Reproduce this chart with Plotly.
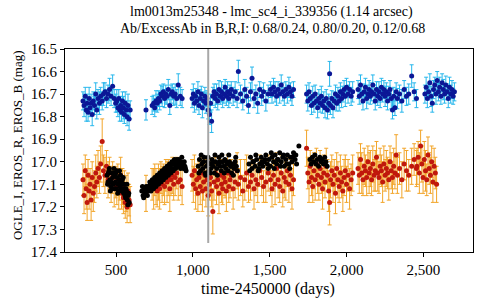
import plotly.graph_objects as go

# ---- data ----
t_eros = [285, 292, 300, 306, 312, 318, 325, 331, 338, 345, 352, 360, 368, 375, 383, 392, 400, 410, 418, 428,
          438, 448, 458, 468, 478, 488, 498, 505, 512, 518, 524, 530, 536, 542, 548, 554, 560, 566, 572, 578, 585, 592,
          695, 735, 745, 752, 760, 768, 776, 784, 792, 800, 808, 816, 824, 832, 840, 850, 858, 866, 875, 885,
          895, 905, 918, 930,
          995, 1003, 1010, 1018, 1025, 1033, 1040, 1048, 1055, 1062, 1070, 1078, 1085, 1092, 1100, 1108, 1115, 1122,
          1130, 1138, 1146, 1154, 1162, 1170, 1178, 1186, 1194, 1202, 1210, 1218, 1226, 1234, 1242, 1250, 1262, 1275,
          1288, 1296, 1310, 1325, 1338, 1350, 1362, 1375, 1385, 1398, 1410, 1422, 1435, 1448, 1460, 1475, 1490, 1505,
          1515, 1525, 1535, 1545, 1555, 1565, 1575, 1585, 1595, 1605, 1615, 1625, 1635, 1645, 1655,
          1740, 1748, 1756, 1764, 1772, 1780, 1788, 1796, 1804, 1812, 1820, 1828, 1836, 1844, 1852, 1860, 1868, 1876,
          1884, 1890, 1896, 1904, 1912, 1920, 1928, 1936, 1944, 1952, 1960, 1968, 1976, 1984, 1992, 2000, 2010, 2020,
          2030, 2040,
          2075, 2083, 2091, 2099, 2107, 2115, 2123, 2131, 2139, 2147, 2155, 2163, 2171, 2179, 2187, 2195, 2203, 2211,
          2219, 2227, 2235, 2243, 2251, 2259, 2267, 2275, 2283, 2291, 2299, 2307, 2315, 2323, 2331, 2345, 2360, 2375,
          2390, 2405, 2424, 2440, 2455]
t_b_tail = [2510, 2518, 2526, 2534, 2542, 2550, 2558, 2566, 2574, 2582, 2590, 2598, 2606, 2614, 2622, 2630, 2638,
            2646, 2654, 2662, 2670, 2678, 2686, 2694, 2702]
t_r_tail = [2458, 2466, 2474, 2482, 2490, 2498, 2506, 2514, 2522, 2530, 2538, 2546, 2554, 2562, 2570, 2578, 2586]

mag_b = [16.73, 16.75, 16.71, 16.77, 16.74, 16.78, 16.72, 16.76, 16.74, 16.79, 16.73, 16.75, 16.70, 16.77, 16.72,
         16.74, 16.71, 16.73, 16.70, 16.69, 16.72, 16.70, 16.68, 16.71, 16.665, 16.72, 16.74, 16.73, 16.76, 16.72,
         16.77, 16.75, 16.78, 16.73, 16.76, 16.79, 16.74, 16.77, 16.80, 16.75, 16.81, 16.77,
         16.77, 16.75, 16.74, 16.76, 16.73, 16.74, 16.72, 16.73, 16.70, 16.71, 16.69, 16.72, 16.70, 16.71, 16.68,
         16.75, 16.70, 16.69, 16.71, 16.70, 16.72, 16.66, 16.71, 16.72,
         16.72, 16.70, 16.74, 16.71, 16.73, 16.69, 16.75, 16.72, 16.70, 16.76, 16.73, 16.71, 16.74, 16.72, 16.77,
         16.79, 16.74, 16.82, 16.71, 16.69, 16.72, 16.70, 16.73, 16.68, 16.71, 16.69, 16.72, 16.70, 16.67, 16.71,
         16.69, 16.72, 16.70, 16.68, 16.71, 16.69, 16.72, 16.60, 16.70, 16.73, 16.68, 16.71, 16.75, 16.69, 16.63,
         16.72, 16.70, 16.74, 16.68, 16.71, 16.69, 16.73, 16.70, 16.68, 16.70, 16.67, 16.69, 16.71, 16.68, 16.70,
         16.66, 16.69, 16.71, 16.68, 16.70, 16.67, 16.69, 16.71, 16.68,
         16.70, 16.73, 16.69, 16.72, 16.75, 16.71, 16.74, 16.70, 16.73, 16.76, 16.72, 16.74, 16.71, 16.75, 16.73,
         16.76, 16.72, 16.77, 16.74, 16.61, 16.75, 16.72, 16.76, 16.73, 16.70, 16.74, 16.71, 16.73, 16.69, 16.72,
         16.70, 16.68, 16.71, 16.67, 16.70, 16.68, 16.71, 16.69,
         16.68, 16.71, 16.66, 16.70, 16.73, 16.69, 16.67, 16.72, 16.70, 16.68, 16.71, 16.69, 16.66, 16.70, 16.73,
         16.68, 16.71, 16.69, 16.72, 16.67, 16.70, 16.68, 16.71, 16.69, 16.73, 16.70, 16.68, 16.72, 16.77, 16.71,
         16.76, 16.69, 16.72, 16.70, 16.73, 16.68, 16.71, 16.70, 16.62, 16.69, 16.72,
         16.70, 16.67, 16.72, 16.69, 16.65, 16.71, 16.74, 16.68, 16.66, 16.70, 16.64, 16.69, 16.67, 16.71, 16.65,
         16.68, 16.70, 16.66, 16.69, 16.72, 16.67, 16.70, 16.68, 16.71, 16.69]
err_b = [0.04, 0.05, 0.04, 0.05, 0.04, 0.04, 0.05, 0.04, 0.04, 0.05, 0.04, 0.04, 0.05, 0.04, 0.04, 0.05, 0.04, 0.04,
         0.05, 0.04, 0.04, 0.04, 0.05, 0.04, 0.05, 0.04, 0.04, 0.05, 0.04, 0.04, 0.05, 0.04, 0.04, 0.04, 0.05, 0.04,
         0.05, 0.04, 0.04, 0.05, 0.05, 0.04,
         0.045, 0.04, 0.035, 0.04, 0.045, 0.04, 0.035, 0.04, 0.04, 0.045, 0.035, 0.04, 0.04, 0.035, 0.045, 0.04,
         0.04, 0.035, 0.04, 0.045, 0.04, 0.05, 0.04, 0.04,
         0.04, 0.045, 0.04, 0.035, 0.04, 0.045, 0.04, 0.04, 0.035, 0.045, 0.04, 0.04, 0.045, 0.035, 0.04, 0.045,
         0.04, 0.05, 0.04, 0.035, 0.04, 0.045, 0.04, 0.04, 0.035, 0.045, 0.04, 0.04, 0.035, 0.04, 0.045, 0.04,
         0.04, 0.035, 0.04, 0.045, 0.04, 0.05, 0.04, 0.04, 0.045, 0.04, 0.035, 0.04, 0.05, 0.04, 0.04, 0.045,
         0.035, 0.04, 0.04, 0.045, 0.04, 0.035, 0.04, 0.04, 0.045, 0.04, 0.035, 0.04, 0.045, 0.04, 0.04, 0.035,
         0.04, 0.045, 0.04, 0.04, 0.035,
         0.04, 0.045, 0.04, 0.035, 0.04, 0.045, 0.04, 0.04, 0.035, 0.045, 0.04, 0.04, 0.045, 0.035, 0.04, 0.045,
         0.04, 0.04, 0.04, 0.055, 0.04, 0.035, 0.045, 0.04, 0.04, 0.035, 0.04, 0.045, 0.04, 0.04, 0.035, 0.04,
         0.045, 0.04, 0.04, 0.035, 0.04, 0.045,
         0.04, 0.035, 0.045, 0.04, 0.04, 0.035, 0.04, 0.045, 0.04, 0.04, 0.035, 0.04, 0.045, 0.04, 0.04, 0.035,
         0.04, 0.045, 0.04, 0.04, 0.035, 0.04, 0.045, 0.04, 0.04, 0.035, 0.04, 0.045, 0.04, 0.04, 0.035, 0.04,
         0.045, 0.04, 0.05, 0.04, 0.04, 0.045, 0.05, 0.04, 0.04,
         0.04, 0.045, 0.04, 0.035, 0.04, 0.045, 0.04, 0.04, 0.035, 0.045, 0.04, 0.04, 0.045, 0.035, 0.04, 0.045,
         0.04, 0.04, 0.035, 0.04, 0.045, 0.04, 0.04, 0.035, 0.04]

mag_r = [17.08, 17.15, 17.04, 17.12, 17.18, 17.06, 17.13, 17.10, 17.17, 17.07, 17.14, 17.11, 17.05, 17.09, 17.03,
         17.07, 17.01, 16.91, 17.04, 17.06, 17.02, 17.08, 17.05, 17.10, 17.07, 17.12, 17.09, 17.11, 17.08, 17.13,
         17.10, 17.06, 17.14, 17.11, 17.16, 17.12, 17.18, 17.14, 17.20, 17.13, 17.17, 17.19,
         17.14, 17.10, 17.12, 17.08, 17.11, 17.13, 17.09, 17.12, 17.07, 17.10, 17.08, 17.11, 17.06, 17.09, 17.07,
         17.12, 17.08, 17.06, 17.10, 17.07, 17.05, 17.09, 17.08, 17.11,
         17.06, 17.10, 17.04, 17.12, 17.08, 17.14, 17.07, 17.11, 17.05, 17.13, 17.09, 17.06, 17.12, 17.08, 17.15,
         17.10, 17.07, 17.13, 17.22, 17.09, 17.05, 17.11, 17.08, 17.14, 17.06, 17.10, 17.12, 17.07, 17.09, 17.13,
         17.05, 17.11, 17.08, 17.06, 17.12, 17.09, 17.04, 17.10, 17.07, 17.13, 17.08, 17.05, 17.11, 17.09, 17.06,
         17.12, 17.08, 17.10, 17.04, 17.07, 17.11, 17.09, 17.05, 17.08, 17.12, 17.06, 17.10, 17.03, 17.08, 17.11,
         17.05, 17.13, 17.07, 17.09, 17.04, 17.10, 17.06, 17.12, 17.08,
         16.94, 17.05, 17.09, 17.02, 17.07, 17.11, 17.04, 17.08, 17.01, 17.06, 17.10, 17.03, 17.07, 17.12, 17.05,
         17.09, 17.02, 17.06, 17.13, 17.18, 17.08, 17.04, 17.10, 17.06, 17.14, 17.03, 17.08, 17.11, 17.05, 17.09,
         17.13, 17.07, 17.04, 17.10, 17.06, 17.12, 17.08, 17.05,
         17.03, 17.06, 16.99, 17.05, 17.08, 17.02, 17.04, 17.07, 17.00, 17.05, 17.03, 17.08, 17.01, 17.06, 17.04,
         16.98, 17.05, 17.07, 17.02, 17.04, 17.09, 17.01, 17.06, 17.03, 17.05, 17.08, 17.00, 17.04, 17.07, 17.02,
         17.05, 16.97, 17.06, 17.03, 17.08, 17.01, 17.04, 17.06, 17.02, 16.99, 17.03,
         17.02, 16.98, 17.05, 16.93, 17.01, 17.07, 16.99, 17.04, 17.08, 16.97, 17.03, 17.06, 17.00, 17.09, 17.02,
         17.05, 17.10]
err_r = [0.07, 0.08, 0.07, 0.09, 0.08, 0.07, 0.08, 0.07, 0.09, 0.07, 0.08, 0.07, 0.08, 0.07, 0.08, 0.07, 0.08, 0.1,
         0.07, 0.08, 0.07, 0.08, 0.07, 0.08, 0.07, 0.08, 0.07, 0.08, 0.07, 0.08, 0.07, 0.08, 0.07, 0.08, 0.07, 0.08,
         0.07, 0.08, 0.07, 0.08, 0.07, 0.08,
         0.08, 0.07, 0.09, 0.07, 0.08, 0.07, 0.08, 0.09, 0.07, 0.08, 0.07, 0.08, 0.07, 0.09, 0.08, 0.1, 0.07, 0.08,
         0.07, 0.08, 0.07, 0.08, 0.07, 0.08,
         0.07, 0.08, 0.07, 0.09, 0.07, 0.08, 0.07, 0.08, 0.07, 0.09, 0.08, 0.07, 0.08, 0.07, 0.09, 0.07, 0.08, 0.07,
         0.1, 0.08, 0.07, 0.08, 0.07, 0.09, 0.07, 0.08, 0.07, 0.08, 0.07, 0.09, 0.08, 0.07, 0.08, 0.07, 0.09, 0.07,
         0.08, 0.07, 0.08, 0.07, 0.09, 0.08, 0.07, 0.08, 0.07, 0.09, 0.07, 0.08, 0.07, 0.08, 0.07, 0.09, 0.08, 0.07,
         0.08, 0.07, 0.09, 0.07, 0.08, 0.07, 0.08, 0.07, 0.09, 0.08, 0.07, 0.08, 0.07, 0.09, 0.07,
         0.08, 0.07, 0.09, 0.07, 0.08, 0.07, 0.08, 0.09, 0.07, 0.08, 0.07, 0.08, 0.07, 0.09, 0.08, 0.07, 0.08, 0.07,
         0.09, 0.1, 0.08, 0.07, 0.08, 0.07, 0.09, 0.07, 0.08, 0.07, 0.08, 0.07, 0.09, 0.08, 0.07, 0.08, 0.07, 0.09,
         0.07, 0.08,
         0.07, 0.08, 0.07, 0.09, 0.07, 0.08, 0.07, 0.08, 0.07, 0.09, 0.08, 0.07, 0.08, 0.07, 0.09, 0.07, 0.08, 0.07,
         0.08, 0.07, 0.09, 0.08, 0.07, 0.08, 0.07, 0.09, 0.07, 0.08, 0.07, 0.08, 0.07, 0.09, 0.08, 0.07, 0.08, 0.07,
         0.09, 0.07, 0.08, 0.07, 0.08,
         0.08, 0.07, 0.09, 0.07, 0.08, 0.07, 0.08, 0.09, 0.07, 0.08, 0.07, 0.08, 0.07, 0.09, 0.08, 0.07, 0.08]

t_ogle = [442, 445, 448, 454, 457, 460, 466, 469, 472, 478, 481, 484, 490, 493, 496, 502, 505, 508, 514, 517,
          520, 526, 529, 532, 538, 541, 544, 550, 553, 556, 562, 565, 568, 574, 577, 580, 586,
          668, 676, 684, 692, 700, 708, 716, 724, 732, 740, 748, 756, 764, 772, 780, 788, 796, 804, 812, 820,
          828, 836, 844, 852, 860, 868, 876, 884, 892, 900, 908, 916, 924, 932, 940, 948, 956,
          1035, 1043, 1050, 1058, 1065, 1073, 1080, 1088, 1095, 1103, 1110, 1118, 1125, 1133, 1140, 1148, 1155,
          1163, 1170, 1178, 1185, 1193, 1200, 1208, 1215, 1223, 1230, 1238, 1245, 1253, 1260, 1268, 1275, 1283, 1290,
          1365, 1375, 1385, 1395, 1405, 1415, 1425, 1435, 1445, 1455, 1465, 1475, 1485, 1495, 1505, 1515, 1525,
          1535, 1545, 1555, 1565, 1575, 1585, 1595, 1605, 1615, 1625, 1635, 1645, 1655, 1665, 1675, 1690,
          1762, 1770, 1778, 1786, 1794, 1802, 1810, 1818, 1826, 1834, 1842, 1850, 1858, 1866, 1874,
          450, 463, 475, 487, 499, 511, 523, 535, 547, 559, 571, 583,
          672, 680, 688, 696, 704, 712, 720, 728, 736, 744, 752, 760, 768, 776, 784, 792, 800, 808, 816, 824,
          832, 840, 848, 856, 864, 872, 880, 888, 896, 904, 912, 920, 928, 936, 944, 952,
          1039, 1054, 1069, 1084, 1099, 1114, 1129, 1144, 1159, 1174, 1189, 1204, 1219, 1234, 1249, 1264, 1279,
          1370, 1390, 1410, 1430, 1450, 1470, 1490, 1510, 1530, 1550, 1570, 1590, 1610, 1630, 1650, 1670]
mag_ogle = [17.06, 17.10, 17.09, 17.04, 17.03, 17.08, 17.11, 17.09, 17.05, 17.07, 17.05, 17.10, 17.06, 17.12,
            17.09, 17.12, 17.04, 17.07, 17.10, 17.13, 17.08, 17.11, 17.06, 17.09, 17.13, 17.08, 17.10, 17.14,
            17.10, 17.12, 17.16, 17.12, 17.13, 17.17, 17.19, 17.15, 17.18,
            17.13, 17.15, 17.12, 17.14, 17.13, 17.11, 17.12, 17.10, 17.11, 17.09, 17.10, 17.08, 17.09, 17.07,
            17.08, 17.06, 17.07, 17.05, 17.06, 17.04, 17.05, 17.03, 17.04, 17.02, 17.03, 17.01, 17.03, 17.00,
            17.02, 17.01, 16.99, 17.02, 17.00, 17.01, 17.03, 17.02, 17.04,
            17.02, 16.99, 17.04, 17.01, 17.03, 16.98, 17.05, 17.02, 17.00, 17.04, 17.01, 17.03, 16.99, 17.02,
            17.05, 17.00, 17.03, 17.01, 16.98, 17.02, 17.04, 17.00, 17.02, 16.99, 17.03, 17.01, 17.04, 17.00,
            17.02, 17.05, 17.01, 17.03, 17.00, 17.02, 17.04,
            17.01, 16.98, 17.03, 17.00, 17.02, 16.99, 17.04, 17.01, 16.98, 17.02, 17.00, 16.97, 17.01, 16.99,
            17.02, 16.98, 17.00, 16.97, 17.01, 16.99, 16.96, 17.00, 16.98, 17.02, 16.99, 16.97, 17.01, 16.98,
            17.00, 16.96, 16.99, 17.01, 16.93,
            16.99, 17.01, 16.98, 17.00, 16.97, 17.01, 16.99, 17.02, 16.98, 17.00, 16.99, 17.01, 16.98, 17.00, 17.02,
            17.05, 17.13, 17.12, 17.03, 17.05, 17.14, 17.04, 17.12, 17.07, 17.15, 17.10, 17.14,
            17.11, 17.16, 17.14, 17.11, 17.15, 17.13, 17.09, 17.13, 17.08, 17.12, 17.07, 17.11, 17.06, 17.10,
            17.05, 17.09, 17.04, 17.08, 17.03, 17.07, 17.02, 17.06, 17.01, 17.05, 17.00, 17.04, 16.99, 17.03,
            16.99, 17.02, 17.00, 17.03, 16.98, 17.02, 17.00, 17.03,
            17.05, 16.97, 17.00, 17.06, 16.98, 17.05, 17.00, 16.97, 17.06, 17.00, 16.97, 17.05, 17.00, 16.97,
            17.02, 17.06, 16.98,
            17.04, 17.00, 16.97, 17.03, 17.00, 16.99, 17.03, 16.96, 17.03, 16.99, 17.02, 16.97, 17.01, 17.03,
            16.98, 16.97]

x_ticks = [500, 1000, 1500, 2000, 2500]
marker_time = 1100

title_1 = "lm0013m25348 - lmc_sc4_i_339356 (1.14 arcsec)"
title_2 = "Ab/ExcessAb in B,R,I: 0.68/0.24, 0.80/0.20, 0.12/0.68"
x_title = "time-2450000 (days)"
y_title = "OGLE_I, EROS_R, EROS_B (mag)"

t_b = t_eros + t_b_tail
t_r = t_eros + t_r_tail

SERIF = "Liberation Serif, Times New Roman, serif"

fig = go.Figure()
fig.add_trace(go.Scatter(
    x=t_b, y=mag_b, mode="markers", name="EROS_B",
    marker=dict(color="#0b1796", size=5),
    error_y=dict(type="data", array=err_b, color="#27b7ec", thickness=1, width=2)))
fig.add_trace(go.Scatter(
    x=t_r, y=mag_r, mode="markers", name="EROS_R",
    marker=dict(color="#c0180c", size=5),
    error_y=dict(type="data", array=err_r, color="#f2a52a", thickness=1, width=2)))
fig.add_trace(go.Scatter(
    x=t_ogle, y=mag_ogle, mode="markers", name="OGLE_I",
    marker=dict(color="#000000", size=5)))

fig.add_shape(type="line", xref="x", yref="y", x0=marker_time, x1=marker_time, y0=16.5, y1=17.36,
              line=dict(color="#a8a8a8", width=2), layer="above")

axis_style = dict(showline=True, linecolor="black", linewidth=1, mirror=True, ticks="outside",
                  ticklen=4, tickcolor="black", showgrid=False, zeroline=False,
                  tickfont=dict(family=SERIF, size=15, color="black"))

fig.update_layout(
    width=480, height=300,
    margin=dict(l=65, r=7, t=49, b=48),
    paper_bgcolor="white", plot_bgcolor="white",
    showlegend=False,
    xaxis=dict(range=[168, 2823], tickvals=x_ticks, tickformat=",", **axis_style),
    yaxis=dict(range=[17.4, 16.5], tick0=16.5, dtick=0.1, tickformat=".1f", **axis_style),
    annotations=[
        dict(text=title_1, xref="paper", yref="paper", x=0.506, y=1.182, xanchor="center", yanchor="middle",
             showarrow=False, font=dict(family=SERIF, size=14, color="black")),
        dict(text=title_2, xref="paper", yref="paper", x=0.509, y=1.103, xanchor="center", yanchor="middle",
             showarrow=False, font=dict(family=SERIF, size=14, color="black")),
        dict(text=x_title, xref="paper", yref="paper", x=0.4975, y=-0.182, xanchor="center", yanchor="middle",
             showarrow=False, font=dict(family=SERIF, size=16, color="black")),
        dict(text=y_title, xref="paper", yref="paper", x=-0.1176, y=0.527, xanchor="center", yanchor="middle",
             textangle=-90, showarrow=False, font=dict(family=SERIF, size=13, color="black")),
    ],
)

fig.write_html("out.html", config={"displayModeBar": False},
               post_script="document.body.style.margin='0px';document.body.style.overflow='hidden';")
